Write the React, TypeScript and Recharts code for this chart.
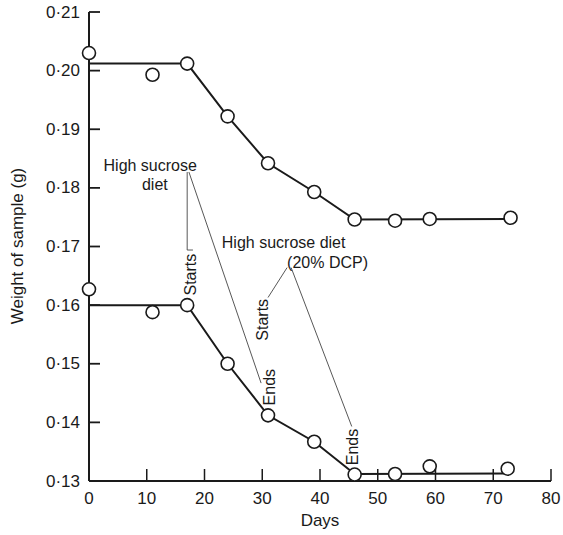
import { ComposedChart, Line, Scatter, XAxis, YAxis, ReferenceLine, ReferenceDot } from 'recharts';

// days on the x axis, sample weight (g) on the y axis
const dayTicks = [0, 10, 20, 30, 40, 50, 60, 70, 80];
const weightTicks = [0.13, 0.14, 0.15, 0.16, 0.17, 0.18, 0.19, 0.2, 0.21];

// upper sample: fitted line and measured points
const upperLine = [
  { day: 0, weight: 0.2012 },
  { day: 17, weight: 0.2012 },
  { day: 24, weight: 0.1922 },
  { day: 31, weight: 0.1842 },
  { day: 39, weight: 0.1793 },
  { day: 46, weight: 0.1746 },
  { day: 73, weight: 0.1747 },
];
const upperPoints = [
  { day: 0, weight: 0.203 },
  { day: 11, weight: 0.1993 },
  { day: 17, weight: 0.2012 },
  { day: 24, weight: 0.1922 },
  { day: 31, weight: 0.1842 },
  { day: 39, weight: 0.1793 },
  { day: 46, weight: 0.1746 },
  { day: 53, weight: 0.1744 },
  { day: 59, weight: 0.1747 },
  { day: 73, weight: 0.1749 },
];

// lower sample
const lowerLine = [
  { day: 0, weight: 0.16 },
  { day: 17, weight: 0.16 },
  { day: 24, weight: 0.15 },
  { day: 31, weight: 0.1412 },
  { day: 39, weight: 0.1367 },
  { day: 46, weight: 0.1312 },
  { day: 72, weight: 0.1313 },
];
const lowerPoints = [
  { day: 0, weight: 0.1627 },
  { day: 11, weight: 0.1588 },
  { day: 17, weight: 0.16 },
  { day: 24, weight: 0.15 },
  { day: 31, weight: 0.1412 },
  { day: 39, weight: 0.1367 },
  { day: 46, weight: 0.1311 },
  { day: 53, weight: 0.1312 },
  { day: 59, weight: 0.1325 },
  { day: 72.5, weight: 0.1321 },
];

// annotation pointers, in days / grams
const noteLines = [
  [[17, 0.1827], [17, 0.1694]],
  [[17, 0.1694], [18, 0.1694]],
  [[17.3, 0.1827], [29.8, 0.1467]],
  [[34.3, 0.1664], [31, 0.1613]],
  [[35, 0.1664], [45.5, 0.1393]],
];

const noteTexts = [
  { text: 'High sucrose', day: 10.6, weight: 0.1829, vertical: false, anchor: 'middle' },
  { text: 'diet', day: 11.4, weight: 0.1796, vertical: false, anchor: 'middle' },
  { text: 'Starts', day: 17.5, weight: 0.1652, vertical: true, anchor: 'middle' },
  { text: 'Ends', day: 31.3, weight: 0.146, vertical: true, anchor: 'middle' },
  { text: 'High sucrose diet', day: 23, weight: 0.1697, vertical: false, anchor: 'start' },
  { text: '(20% DCP)', day: 34.3, weight: 0.1664, vertical: false, anchor: 'start' },
  { text: 'Starts', day: 30.1, weight: 0.1575, vertical: true, anchor: 'middle' },
  { text: 'Ends', day: 45.7, weight: 0.1358, vertical: true, anchor: 'middle' },
];

const INK = '#1a1a1a';
const FONT = '"Liberation Sans", Arial, sans-serif';

const fmtWeight = (v: number) => v.toFixed(2).replace('.', '·');

const YTick = (props: any) => {
  const { x, y, payload } = props;
  return (
    <g>
      {payload.value !== 0.13 && <line x1={x} y1={y} x2={x + 11} y2={y} stroke={INK} strokeWidth={1.8} />}
      <text x={x - 9} y={y} textAnchor="end" dominantBaseline="central" fontSize={17} fill={INK} fontFamily={FONT}>
        {fmtWeight(payload.value)}
      </text>
    </g>
  );
};

const XTick = (props: any) => {
  const { x, y, payload } = props;
  return (
    <g>
      {payload.value !== 0 && <line x1={x} y1={y} x2={x} y2={y - 12} stroke={INK} strokeWidth={1.5} />}
      <text x={x} y={y + 17} textAnchor="middle" dominantBaseline="central" fontSize={17} fill={INK} fontFamily={FONT}>
        {payload.value}
      </text>
    </g>
  );
};

const OpenCircle = (props: any) => (
  <circle cx={props.cx} cy={props.cy} r={6.5} fill="#fff" stroke={INK} strokeWidth={1.6} />
);

export default function App() {
  return (
    <div style={{ position: 'fixed', left: 0, top: 0, background: '#fff' }}>
      <ComposedChart width={563} height={535} margin={{ top: 12, right: 12, left: 0, bottom: 0 }} style={{ fontFamily: FONT }}>
        <XAxis
          type="number"
          dataKey="day"
          domain={[0, 80]}
          ticks={dayTicks}
          interval={0}
          height={54}
          tickSize={0}
          tickMargin={0}
          tickLine={false}
          axisLine={{ stroke: INK, strokeWidth: 2 }}
          tick={<XTick />}
        />
        <YAxis
          type="number"
          dataKey="weight"
          domain={[0.13, 0.21]}
          ticks={weightTicks}
          interval={0}
          width={89}
          tickSize={0}
          tickMargin={0}
          tickLine={false}
          axisLine={{ stroke: INK, strokeWidth: 2 }}
          tick={<YTick />}
        />
        {noteLines.map((seg, i) => (
          <ReferenceLine
            key={`nl${i}`}
            segment={[{ x: seg[0][0], y: seg[0][1] }, { x: seg[1][0], y: seg[1][1] }]}
            stroke="#444"
            strokeWidth={0.9}
            ifOverflow="visible"
          />
        ))}
        <Line data={upperLine} dataKey="weight" stroke={INK} strokeWidth={2} dot={false} isAnimationActive={false} />
        <Line data={lowerLine} dataKey="weight" stroke={INK} strokeWidth={2} dot={false} isAnimationActive={false} />
        <Scatter data={upperPoints} dataKey="weight" shape={<OpenCircle />} isAnimationActive={false} />
        <Scatter data={lowerPoints} dataKey="weight" shape={<OpenCircle />} isAnimationActive={false} />
        {noteTexts.map((n, i) => (
          <ReferenceDot
            key={`nt${i}`}
            x={n.day}
            y={n.weight}
            ifOverflow="visible"
            shape={(p: any) => (
              <text
                x={p.cx}
                y={p.cy}
                textAnchor={n.anchor}
                dominantBaseline={n.vertical ? 'central' : 'alphabetic'}
                transform={n.vertical ? `rotate(-90 ${p.cx} ${p.cy})` : undefined}
                fontSize={16}
                fill={INK}
                fontFamily={FONT}
              >
                {n.text}
              </text>
            )}
          />
        ))}
        <text x={320} y={526} textAnchor="middle" fontSize={17} fill={INK} fontFamily={FONT}>
          Days
        </text>
        <text
          x={17}
          y={246}
          textAnchor="middle"
          dominantBaseline="central"
          transform="rotate(-90 17 246)"
          fontSize={17}
          fill={INK}
          fontFamily={FONT}
        >
          Weight of sample (g)
        </text>
      </ComposedChart>
    </div>
  );
}
